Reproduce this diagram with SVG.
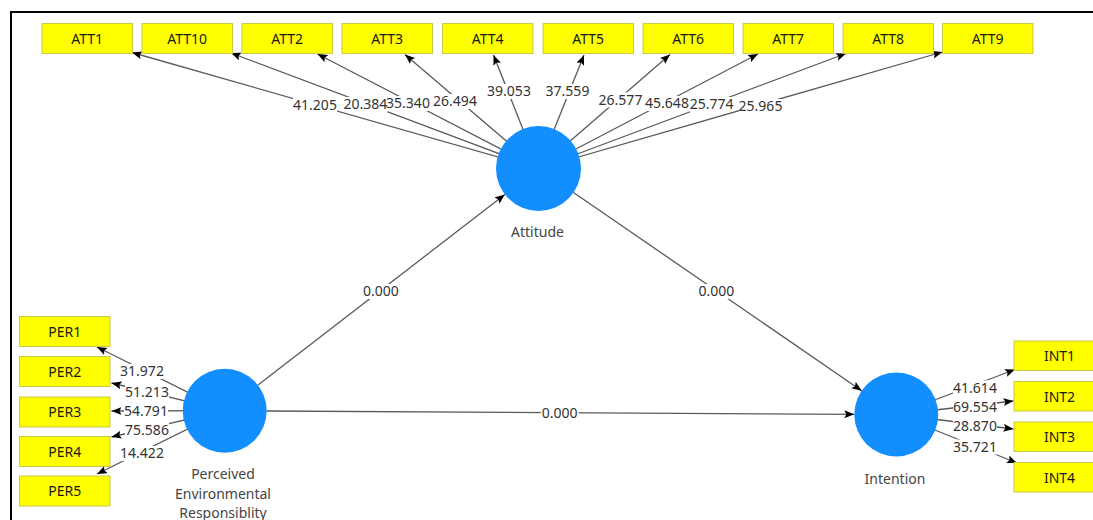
<svg xmlns="http://www.w3.org/2000/svg" width="1093" height="520" viewBox="0 0 1093 520">
<style>
.box{fill:#ffff00;stroke:#c9c94a;stroke-width:1}
.bt{font-family:"Noto Sans","Liberation Sans",sans-serif;font-size:14px;fill:#1a1a1a;text-anchor:middle}
.lv{fill:#138efe}
.ct{font-family:"Noto Sans","Liberation Sans",sans-serif;font-size:14px;fill:#444;text-anchor:middle}
.ln{stroke:#5a5a5a;stroke-width:1.3;fill:none}
.ar{marker-end:url(#ah)}
.bg{fill:#fff}
.lb{font-family:"Noto Sans","Liberation Sans",sans-serif;font-size:14px;fill:#333;text-anchor:middle}
</style>
<defs>
<marker id="ah" markerUnits="userSpaceOnUse" markerWidth="11" markerHeight="9" refX="10" refY="4" orient="auto">
<path d="M0,0 L10,4 L0,8 L2,4 z" fill="#000"/>
</marker>
</defs>
<rect width="1093" height="520" fill="#fff"/>
<path d="M11,520 V12 H1093" fill="none" stroke="#000" stroke-width="2"/>
<g id="connectors">
<line class="ln ar" x1="538.5" y1="168.5" x2="132" y2="52.5"/>
<line class="ln ar" x1="538.5" y1="168.5" x2="231" y2="53"/>
<line class="ln ar" x1="538.5" y1="168.5" x2="317.5" y2="54"/>
<line class="ln ar" x1="538.5" y1="168.5" x2="405" y2="54.5"/>
<line class="ln ar" x1="538.5" y1="168.5" x2="493.5" y2="55"/>
<line class="ln ar" x1="538.5" y1="168.5" x2="584" y2="55"/>
<line class="ln ar" x1="538.5" y1="168.5" x2="670" y2="54.5"/>
<line class="ln ar" x1="538.5" y1="168.5" x2="758" y2="54"/>
<line class="ln ar" x1="538.5" y1="168.5" x2="846" y2="53.5"/>
<line class="ln ar" x1="538.5" y1="168.5" x2="942.5" y2="52"/>
<line class="ln ar" x1="224.7" y1="410.7" x2="97" y2="347"/>
<line class="ln ar" x1="224.7" y1="410.7" x2="111.5" y2="383"/>
<line class="ln ar" x1="224.7" y1="410.7" x2="111.5" y2="411"/>
<line class="ln ar" x1="224.7" y1="410.7" x2="111.5" y2="437"/>
<line class="ln ar" x1="224.7" y1="410.7" x2="97" y2="474"/>
<line class="ln ar" x1="896.3" y1="414.5" x2="1015" y2="369.5"/>
<line class="ln ar" x1="896.3" y1="414.5" x2="1013.5" y2="401"/>
<line class="ln ar" x1="896.3" y1="414.5" x2="1013.5" y2="429"/>
<line class="ln ar" x1="896.3" y1="414.5" x2="1017" y2="463"/>
<line class="ln ar" x1="258" y1="385" x2="504.9" y2="194.5"/>
<line class="ln ar" x1="573.5" y1="192.5" x2="861.7" y2="390.7"/>
<line class="ln ar" x1="266.7" y1="411" x2="854.3" y2="414.3"/>
<rect class="bg" x="293" y="98" width="44" height="15"/>
<rect class="bg" x="343.5" y="97" width="44" height="15"/>
<rect class="bg" x="386.5" y="96" width="43" height="15"/>
<rect class="bg" x="433.5" y="94" width="43" height="15"/>
<rect class="bg" x="487.5" y="84" width="43" height="15"/>
<rect class="bg" x="546" y="84" width="43" height="15"/>
<rect class="bg" x="599" y="92.5" width="43" height="15"/>
<rect class="bg" x="645.5" y="96" width="43" height="15"/>
<rect class="bg" x="690" y="97" width="43" height="15"/>
<rect class="bg" x="739" y="99" width="43" height="15"/>
<rect class="bg" x="120" y="364" width="44" height="15"/>
<rect class="bg" x="125" y="385" width="44" height="15"/>
<rect class="bg" x="124" y="404" width="44" height="15"/>
<rect class="bg" x="125" y="423" width="44" height="15"/>
<rect class="bg" x="120" y="446" width="44" height="15"/>
<rect class="bg" x="953" y="380.5" width="44" height="15"/>
<rect class="bg" x="953" y="400" width="44" height="15"/>
<rect class="bg" x="953" y="419" width="44" height="15"/>
<rect class="bg" x="953" y="439.5" width="44" height="15"/>
<rect class="bg" x="362" y="284" width="38" height="15"/>
<rect class="bg" x="697.3" y="284" width="38" height="15"/>
<rect class="bg" x="540.7" y="406" width="38" height="15"/>
<text class="lb" x="315" y="110">41.205</text>
<text class="lb" x="365.3" y="109">20.384</text>
<text class="lb" x="408" y="108">35.340</text>
<text class="lb" x="455" y="106">26.494</text>
<text class="lb" x="509" y="96">39.053</text>
<text class="lb" x="567.5" y="96">37.559</text>
<text class="lb" x="620.5" y="104.5">26.577</text>
<text class="lb" x="667" y="108">45.648</text>
<text class="lb" x="711.7" y="109">25.774</text>
<text class="lb" x="760.5" y="111">25.965</text>
<text class="lb" x="142" y="376">31.972</text>
<text class="lb" x="147" y="397">51.213</text>
<text class="lb" x="146" y="416">54.791</text>
<text class="lb" x="147" y="435">75.586</text>
<text class="lb" x="142" y="458">14.422</text>
<text class="lb" x="975" y="392.5">41.614</text>
<text class="lb" x="975" y="412">69.554</text>
<text class="lb" x="975" y="431">28.870</text>
<text class="lb" x="975" y="451.5">35.721</text>
<text class="lb" x="381" y="296">0.000</text>
<text class="lb" x="716.3" y="296">0.000</text>
<text class="lb" x="559.7" y="418">0.000</text>
</g>
<g id="ATT1"><rect class="box" x="42" y="23.5" width="90.5" height="30"/><text class="bt" x="87.2" y="43.5">ATT1</text></g>
<g id="ATT10"><rect class="box" x="142" y="23.5" width="90.5" height="30"/><text class="bt" x="187.2" y="43.5">ATT10</text></g>
<g id="ATT2"><rect class="box" x="242" y="23.5" width="90.5" height="30"/><text class="bt" x="287.2" y="43.5">ATT2</text></g>
<g id="ATT3"><rect class="box" x="342" y="23.5" width="90.5" height="30"/><text class="bt" x="387.2" y="43.5">ATT3</text></g>
<g id="ATT4"><rect class="box" x="442.5" y="23.5" width="90.5" height="30"/><text class="bt" x="487.7" y="43.5">ATT4</text></g>
<g id="ATT5"><rect class="box" x="543" y="23.5" width="90.5" height="30"/><text class="bt" x="588.2" y="43.5">ATT5</text></g>
<g id="ATT6"><rect class="box" x="643" y="23.5" width="90.5" height="30"/><text class="bt" x="688.2" y="43.5">ATT6</text></g>
<g id="ATT7"><rect class="box" x="743" y="23.5" width="90.5" height="30"/><text class="bt" x="788.2" y="43.5">ATT7</text></g>
<g id="ATT8"><rect class="box" x="843" y="23.5" width="90.5" height="30"/><text class="bt" x="888.2" y="43.5">ATT8</text></g>
<g id="ATT9"><rect class="box" x="942.5" y="23.5" width="90.5" height="30"/><text class="bt" x="987.7" y="43.5">ATT9</text></g>
<g id="PER1"><rect class="box" x="19.5" y="316.5" width="90.5" height="30"/><text class="bt" x="64.7" y="336.5">PER1</text></g>
<g id="PER2"><rect class="box" x="19.5" y="356.5" width="90.5" height="30"/><text class="bt" x="64.7" y="376.5">PER2</text></g>
<g id="PER3"><rect class="box" x="19.5" y="397" width="90.5" height="30"/><text class="bt" x="64.7" y="417">PER3</text></g>
<g id="PER4"><rect class="box" x="19.5" y="436.5" width="90.5" height="30"/><text class="bt" x="64.7" y="456.5">PER4</text></g>
<g id="PER5"><rect class="box" x="19.5" y="476" width="90.5" height="30"/><text class="bt" x="64.7" y="496">PER5</text></g>
<g id="INT1"><rect class="box" x="1014" y="341" width="90.5" height="29.5"/><text class="bt" x="1059.5" y="361">INT1</text></g>
<g id="INT2"><rect class="box" x="1014" y="381.5" width="90.5" height="29.5"/><text class="bt" x="1059.5" y="401.5">INT2</text></g>
<g id="INT3"><rect class="box" x="1014" y="422" width="90.5" height="29.5"/><text class="bt" x="1059.5" y="442">INT3</text></g>
<g id="INT4"><rect class="box" x="1014" y="462.5" width="90.5" height="29.5"/><text class="bt" x="1059.5" y="482.5">INT4</text></g>
<g id="Attitude"><circle class="lv" cx="538.5" cy="168.5" r="42.5"/><text class="ct" x="537.5" y="237">Attitude</text></g>
<g id="PerceivedEnvironmentalResponsiblity"><circle class="lv" cx="224.7" cy="410.7" r="42"/><text class="ct" x="223" y="479">Perceived</text><text class="ct" x="223" y="498.5">Environmental</text><text class="ct" x="223" y="518">Responsiblity</text></g>
<g id="Intention"><circle class="lv" cx="896.3" cy="414.5" r="42"/><text class="ct" x="895" y="484">Intention</text></g>
</svg>
